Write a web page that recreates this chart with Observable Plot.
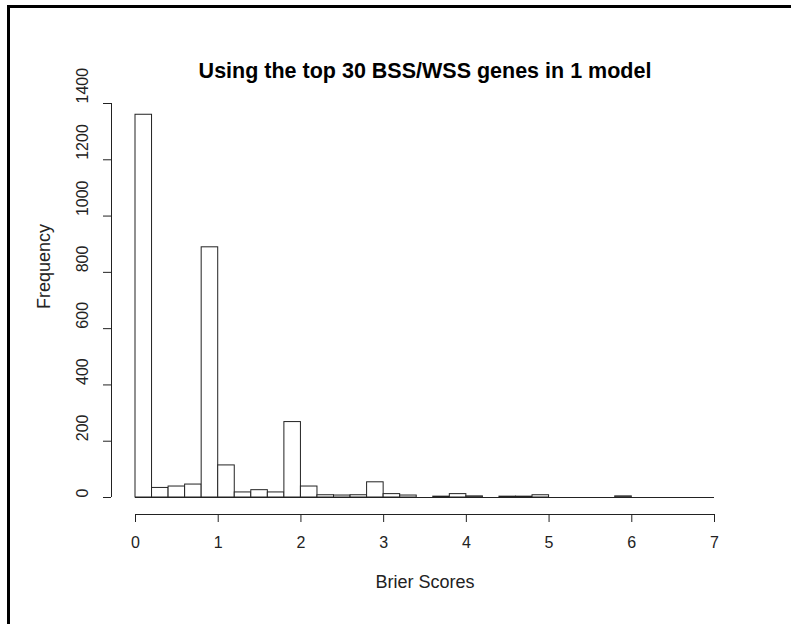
<!DOCTYPE html>
<html><head><meta charset="utf-8">
<script src="https://cdn.jsdelivr.net/npm/d3@7"></script>
<script src="https://cdn.jsdelivr.net/npm/@observablehq/plot@0.6"></script>
<style>
html,body{margin:0;padding:0;background:#fff;overflow:hidden;}
#wrap{position:relative;width:791px;height:624px;}
#chart svg{display:block;}
#border{position:absolute;left:7px;top:5px;right:0;bottom:0;border-left:3px solid #000;border-top:3px solid #000;pointer-events:none;}
</style></head><body>
<div id="wrap"><div id="chart"></div><div id="border"></div></div>
<script>
const title = "Using the top 30 BSS/WSS genes in 1 model";
const xLabel = "Brier Scores";
const yLabel = "Frequency";
const binEdges = [0, 0.2, 0.4, 0.6, 0.8, 1.0, 1.2, 1.4, 1.6, 1.8, 2.0, 2.2, 2.4, 2.6, 2.8, 3.0, 3.2, 3.4, 3.6, 3.8, 4.0, 4.2, 4.4, 4.6, 4.8, 5.0, 5.2, 5.4, 5.6, 5.8, 6.0, 6.2, 6.4, 6.6, 6.8, 7.0];
const counts = [1360, 34, 39, 46, 889, 114, 18, 26, 18, 268, 39, 8, 7, 8, 54, 12, 7, 0, 3, 12, 4, 0, 3, 3, 8, 0, 0, 0, 0, 4, 0, 0, 0, 0, 0];
const xTicks = [0, 1, 2, 3, 4, 5, 6, 7];
const yTicks = [0, 200, 400, 600, 800, 1000, 1200, 1400];

const bins = counts.map((c, i) => ({x1: binEdges[i], x2: binEdges[i + 1], count: c}));
const font = "'Liberation Sans', Arial, sans-serif";
const ink = "#222";

const chart = Plot.plot({
  width: 791,
  height: 624,
  marginLeft: 135,
  marginRight: 77,
  marginTop: 103,
  marginBottom: 110,
  style: {fontFamily: font, fontSize: "16px", color: ink, background: "#fff"},
  x: {domain: [xTicks[0], xTicks[xTicks.length - 1]], axis: null},
  y: {domain: [yTicks[0], yTicks[yTicks.length - 1]], range: [497, 103], axis: null},
  marks: [
    Plot.rect(bins, {x1: "x1", x2: "x2", y1: 0, y2: "count", fill: "#fff", stroke: ink, strokeWidth: 1}),
    Plot.ruleY([0], {x1: binEdges[0], x2: binEdges[binEdges.length - 1], stroke: ink, strokeWidth: 1}),
    // x axis
    Plot.ruleY([0], {x1: xTicks[0], x2: xTicks[xTicks.length - 1], dy: 17, stroke: ink}),
    Plot.axisX({ticks: xTicks, tickSize: 8, tickFormat: () => "", label: null, stroke: ink}),
    Plot.text(xTicks, {x: d => d, text: d => String(d), frameAnchor: "bottom", dy: 33, fontSize: 16, fill: ink}),
    // y axis
    Plot.ruleX([xTicks[0]], {y1: yTicks[0], y2: yTicks[yTicks.length - 1], dx: -24, stroke: ink}),
    Plot.axisY({ticks: yTicks, tickSize: 8, dx: -24, tickFormat: () => "", label: null, stroke: ink}),
    Plot.text(yTicks, {y: d => d, text: d => String(d), frameAnchor: "left", dx: -53, rotate: -90, fontSize: 16, fill: ink}),
    // titles
    Plot.text([title], {text: d => d, frameAnchor: "top", dy: -41, fontSize: 21.5, fontWeight: "bold", fill: "#000"}),
    Plot.text([xLabel], {text: d => d, frameAnchor: "bottom", dy: 73, fontSize: 18, fill: ink}),
    Plot.text([yLabel], {text: d => d, frameAnchor: "left", dx: -91, rotate: -90, fontSize: 18, fill: ink})
  ]
});
document.getElementById("chart").appendChild(chart);
</script>
</body></html>
